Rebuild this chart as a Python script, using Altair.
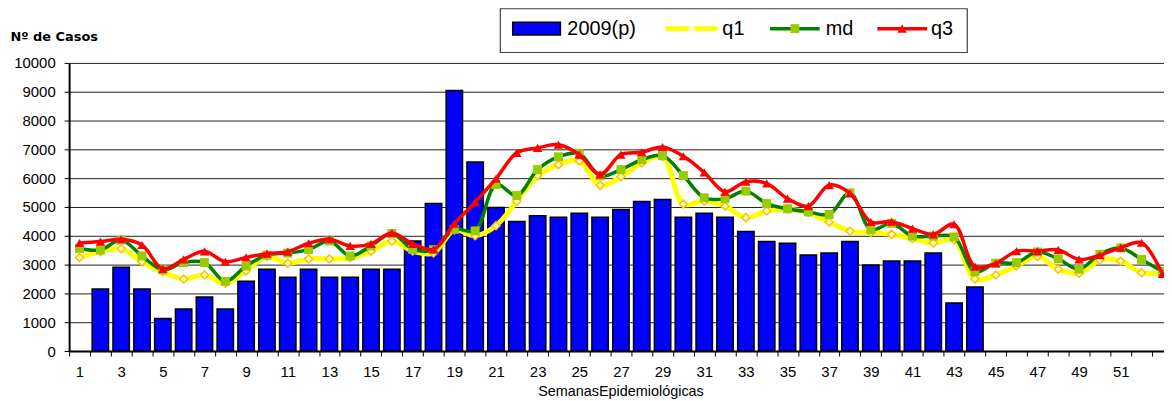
import altair as alt
import pandas as pd

# ---------------- data ----------------
weeks = list(range(1, 54))

cases_2009 = [None, 2150, 2910, 2150, 1130, 1460, 1880, 1460, 2420, 2840,
              2560, 2840, 2560, 2560, 2840, 2840, 3820, 5120, 9040, 6560,
              4980, 4500, 4700, 4640, 4780, 4640, 4910, 5190, 5260, 4640,
              4780, 4640, 4150, 3800, 3740, 3330, 3400, 3800, 2990, 3125,
              3125, 3400, 1670, 2225, None, None, None, None, None, None,
              None, None, None]

q1 = [3250, 3450, 3550, 3100, 2750, 2500, 2640, 2350, 2780, 3280,
      3050, 3200, 3200, 3240, 3460, 3820, 3470, 3400, 4200, 4000,
      4350, 5200, 6080, 6470, 6600, 5750, 6050, 6530, 6750, 5100,
      5200, 5030, 4630, 4860, 4920, 4800, 4480, 4160, 4110, 4050,
      3900, 3750, 3860, 2500, 2640, 2950, 3280, 2840, 2700, 3160,
      3120, 2720, 2720]

md = [3560, 3510, 3850, 3300, 2820, 3070, 3070, 2420, 2950, 3330,
      3400, 3520, 3820, 3300, 3650, 4080, 3530, 3520, 4220, 4170,
      5780, 5400, 6300, 6740, 6850, 6080, 6300, 6640, 6780, 6090,
      5320, 5290, 5550, 5120, 4940, 4830, 4740, 5490, 4220, 4430,
      3990, 3990, 3960, 2750, 3050, 3070, 3440, 3200, 2840, 3360,
      3580, 3180, 2760]

q3 = [3750, 3800, 3880, 3680, 2850, 3180, 3460, 3100, 3250, 3380,
      3450, 3740, 3880, 3650, 3720, 4100, 3720, 3530, 4420, 5170,
      5980, 6880, 7050, 7160, 6820, 6130, 6820, 6900, 7080, 6760,
      6200, 5530, 5880, 5820, 5290, 5030, 5760, 5470, 4480, 4490,
      4250, 4050, 4400, 2930, 3040, 3470, 3470, 3510, 3180, 3330,
      3590, 3760, 2680]

y_ticks = list(range(0, 10001, 1000))
x_label_weeks = list(range(1, 52, 2))
x_tick_bounds = [w + 0.5 for w in range(0, 53)]

# ---------------- tables ----------------
bar_df = pd.DataFrame({"week": weeks, "value": cases_2009})
bar_df = bar_df.dropna()
bar_df["series"] = "2009(p)"
bar_df["boxkey"] = "box"

def series_df(name, vals):
    return pd.DataFrame({"week": weeks, "value": vals, "series": name})

q1_df = series_df("q1", q1)
md_df = series_df("md", md)
q3_df = series_df("q3", q3)

# ---------------- shared encodings ----------------
FONT = "Liberation Sans"

x_axis = alt.Axis(
    values=sorted(x_tick_bounds + x_label_weeks),
    labelExpr="datum.value % 2 == 1 ? '' + datum.value : ''",
    tickOpacity={"condition": {"test": "datum.value % 1 != 0", "value": 1}, "value": 0},
    tickSize=5, tickColor="black", tickWidth=1,
    domainColor="black", domainWidth=2,
    grid=False,
    labelFont=FONT, labelFontSize=15, labelColor="black", labelPadding=9,
    labelOverlap=False, labelFlush=False, labelBound=False,
    title="SemanasEpidemiológicas", titleFont=FONT, titleFontSize=14.5,
    titleFontWeight="normal", titleColor="black",
    titleX=555, titleY=45, titleAlign="center", titleBaseline="alphabetic",
)

y_axis = alt.Axis(
    values=y_ticks, format="d",
    tickSize=5, tickColor="black", tickWidth=1,
    domainColor="black", domainWidth=2,
    grid=True, gridColor="#202020", gridWidth=1,
    labelFont=FONT, labelFontSize=15, labelColor="black", labelPadding=9,
    title="Nº de Casos", titleFont="DejaVu Sans", titleFontSize=13,
    titleFontWeight="bold", titleColor="black", titleAngle=0,
    titleAlign="left", titleBaseline="middle", titleX=-59.5, titleY=-27,
)

x_enc = alt.X("week:Q", scale=alt.Scale(domain=[0.5, 53.08], nice=False, zero=False, padding=0),
              axis=x_axis)
y_enc = alt.Y("value:Q", scale=alt.Scale(domain=[0, 10000], nice=False, padding=0), axis=y_axis)

def line_legend(x, y, color, width, size, offset):
    return alt.Legend(orient="none", legendX=x, legendY=y, title=None, padding=0,
                      symbolType="stroke", symbolSize=size, symbolStrokeColor=color,
                      symbolStrokeWidth=width, symbolOpacity=1,
                      labelFont=FONT, labelFontSize=20, labelColor="black",
                      labelOffset=offset)

def marker_legend(x, y, shape, size, fill, stroke, sw):
    return alt.Legend(orient="none", legendX=x, legendY=y, title=None, padding=0,
                      symbolType=shape, symbolSize=size, symbolFillColor=fill,
                      symbolStrokeColor=stroke, symbolStrokeWidth=sw, symbolOpacity=1,
                      labelExpr="''", labelFontSize=11)

# ---------------- layers ----------------
bars = alt.Chart(bar_df).mark_bar(size=16.5, stroke="black", strokeWidth=1.5).encode(
    x=x_enc, y=y_enc,
    fill=alt.Fill("series:N", scale=alt.Scale(domain=["2009(p)"], range=["#0000FF"]),
                  legend=alt.Legend(orient="none", legendX=445.5, legendY=-59.5, title=None,
                                    padding=0, symbolType="M-1,-0.27H1V0.27H-1Z",
                                    symbolSize=2304, symbolFillColor="#0000FF",
                                    symbolStrokeColor="black", symbolStrokeWidth=1.5,
                                    symbolOpacity=1, labelFont=FONT, labelFontSize=20,
                                    labelColor="black", labelOffset=6)),
    opacity=alt.Opacity("boxkey:N", scale=alt.Scale(domain=["box"], range=[1]),
                        legend=alt.Legend(orient="none", legendX=433, legendY=-268.5,
                                          title=None, padding=0,
                                          symbolType="M-1,-0.0936H1V0.0936H-1Z",
                                          symbolSize=470 * 470,
                                          symbolFillColor="transparent",
                                          symbolStrokeColor="#404040",
                                          symbolStrokeWidth=1.2, symbolOpacity=1,
                                          labelExpr="''", labelFontSize=11)),
)

def line_layer(df, name, color, width, legend):
    return alt.Chart(df).mark_line(interpolate="catmull-rom", strokeWidth=width, clip=True).encode(
        x=x_enc, y=y_enc,
        stroke=alt.Stroke("series:N", scale=alt.Scale(domain=[name], range=[color]), legend=legend),
    )

def point_layer(df, name, shape, size, fill, stroke, sw, legend):
    return alt.Chart(df).mark_point(filled=True, size=size, fill=fill, stroke=stroke,
                                    strokeWidth=sw, opacity=1, clip=True).encode(
        x=x_enc, y=y_enc,
        shape=alt.Shape("series:N", scale=alt.Scale(domain=[name], range=[shape]), legend=legend),
    )

q1_line = line_layer(q1_df, "q1", "#FFFF00", 5, line_legend(598, -63, "#FFFF00", 5, 2704, 2.5))
q1_pts = point_layer(q1_df, "q1", "diamond", 64, "#FFFFCC", "#FFC000", 1.5,
                     marker_legend(621, -40, "diamond", 64, "#FFFFCC", "#FFC000", 1.5))
md_line = line_layer(md_df, "md", "#008000", 3.5, line_legend(703.5, -61.5, "#008000", 3.5, 2500, 4))
md_pts = point_layer(md_df, "md", "square", 81, "#99CC00", "#99CC00", 0,
                     marker_legend(725, -40, "square", 81, "#99CC00", "#99CC00", 0))
q3_line = line_layer(q3_df, "q3", "#FF0000", 3.5, line_legend(811.5, -61.5, "#FF0000", 3.5, 2500, 2))
q3_pts = point_layer(q3_df, "q3", "triangle-up", 90, "#FF0000", "#FF0000", 0,
                     marker_legend(833, -40, "triangle-up", 90, "#FF0000", "#FF0000", 0))

chart = alt.layer(bars, q1_line, q1_pts, md_line, md_pts, q3_line, q3_pts).resolve_scale(
    fill="independent", stroke="independent", shape="independent", opacity="independent"
).properties(
    width=1102, height=290,
    autosize=alt.AutoSizeParams(type="none"),
    padding={"left": 61.5, "right": 0, "top": 54, "bottom": 49},
    background="white",
).configure_view(stroke=None)

chart.save("out.html", embed_options={"renderer": "svg", "actions": False})
